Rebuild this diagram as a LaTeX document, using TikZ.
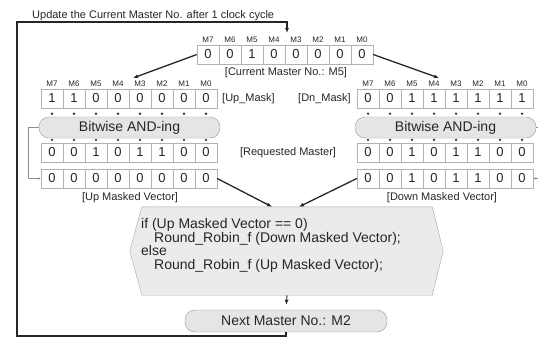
\documentclass[tikz,border=0pt]{standalone}
\usepackage{fontspec}
\setmainfont{Liberation Sans}
\usetikzlibrary{arrows.meta}

\begin{document}
\begin{tikzpicture}[x=1pt,y=1pt]
	\tikzstyle{every node}+=[inner sep=0pt, text=black!85]
	\tikzstyle{cell}=[draw=black!30, fill=white, minimum width=22pt, minimum height=19pt, font=\fontsize{13}{13}\selectfont]
	\tikzstyle{bitname}=[font=\fontsize{8}{8}\selectfont]
	\tikzstyle{lbl}=[font=\fontsize{11}{11}\selectfont]
	\tikzstyle{pill}=[draw=black!40, fill=black!10, rounded corners=10pt, minimum width=181pt, minimum height=21pt, font=\fontsize{14}{14}\selectfont]
	\tikzstyle{flow}=[black!85, line width=1.3pt, -{Latex[length=5pt,width=4pt]}]
	\tikzstyle{bypass}=[black!45, line width=0.6pt, -{Latex[length=2.5pt,width=2.5pt]}]
	\useasboundingbox (0,0) rectangle (538,-338);

	\node[lbl, anchor=west] (update) at (32,-16) {Update the Current Master No. after 1 clock cycle};

	\foreach \r/\x/\y/\vals in {cur/208/-54.5/{0,0,1,0,0,0,0,0}, upm/52/-98.5/{1,1,0,0,0,0,0,0}, dnm/368/-98.5/{0,0,1,1,1,1,1,1}, upr/52/-152.5/{0,0,1,0,1,1,0,0}, dnr/368/-152.5/{0,0,1,0,1,1,0,0}, upv/52/-178.5/{0,0,0,0,0,0,0,0}, dnv/368/-178.5/{0,0,1,0,1,1,0,0}}
		\foreach \v [count=\i from 0] in \vals
			\node[cell] (\r\i) at (\x+22*\i,\y) {\v};

	\foreach \i in {0,...,7} {
		\pgfmathtruncatemacro\m{7-\i}
		\node[bitname] (curm\i) at (208+22*\i,-40) {M\m};
		\node[bitname] (upmm\i) at (52+22*\i,-84) {M\m};
		\node[bitname] (dnmm\i) at (368+22*\i,-84) {M\m};
	}

	\node[lbl] (curlbl) at (286,-73) {[Current Master No.: M5]};
	\node[lbl, anchor=west] (upmask) at (222,-98.5) {[Up\_Mask]};
	\node[lbl, anchor=east] (dnmask) at (351,-98.5) {[Dn\_Mask]};
	\node[lbl] (reqlbl) at (288,-152.5) {[Requested Master]};
	\node[lbl] (upvlbl) at (130,-197.5) {[Up Masked Vector]};
	\node[lbl] (dnvlbl) at (442,-197.5) {[Down Masked Vector]};

	\node[pill] (andup) at (129.5,-127.5) {Bitwise AND-ing};
	\node[pill] (anddn) at (445.5,-127.5) {Bitwise AND-ing};
	\foreach \i in {0,...,7} {
		\fill[black!80] (upm\i.south) ++(0,-5.5) circle (1.3);
		\fill[black!80] (upr\i.north) ++(0,3) circle (1.3);
		\fill[black!80] (dnm\i.south) ++(0,-5.5) circle (1.3);
		\fill[black!80] (dnr\i.north) ++(0,3) circle (1.3);
	}
	\draw[bypass] (andup.west) -- ++(-11,0) |- (upv0.west);
	\draw[bypass] (anddn.east) -- ++(6,0) |- (dnv7.east);

	\node (cond) at (287,-251) [minimum width=290pt, minimum height=88pt] {};
	\draw[draw=black!35, fill=black!8] (cond.north west) -- (cond.north east) -- ([xshift=11pt]cond.east) -- (cond.south east) -- (cond.south west) -- ([xshift=-12pt]cond.west) -- cycle;
	\node[anchor=west, align=left, font=\fontsize{14}{13.7}\selectfont] (code) at (141,-245.5) {if (Up Masked Vector == 0)\\\hspace*{13pt}Round\_Robin\_f (Down Masked Vector);\\else\\\hspace*{13pt}Round\_Robin\_f (Up Masked Vector);};

	\node[pill, minimum width=202pt, minimum height=22pt] (next) at (286,-321) {Next Master No.: M2};

	\coordinate (uptip) at (133,-78);
	\coordinate (dntip) at (439,-78);
	\draw[flow] (cur0.west) -- (uptip);
	\draw[flow] (cur7.east) -- (dntip);
	\draw[flow] (upv7.east) -- ([xshift=-15pt]cond.north);
	\draw[flow] (dnv0.west) -- ([xshift=12pt]cond.north);
	\draw[flow, line width=0.9pt, shorten >=5pt] (cond.south) -- (next.north);

	\coordinate (loopbl) at (17,-336);
	\coordinate (looptr) at (287,-22);
	\coordinate (looptip) at (287,-33);
	\draw[flow, line width=1.6pt] (next.south) |- (loopbl) |- (looptr) -- (looptip);
\end{tikzpicture}
\end{document}
